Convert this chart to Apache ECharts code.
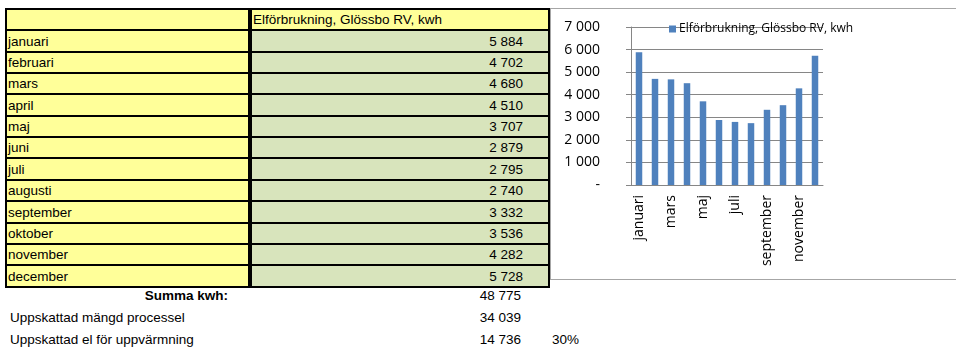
<!DOCTYPE html>
<html>
<head>
<meta charset="utf-8">
<script src="https://cdn.jsdelivr.net/npm/echarts@6/dist/echarts.min.js"></script>
<style>
  html, body { margin: 0; padding: 0; background: #fff; }
  body { width: 956px; height: 352px; position: relative; overflow: hidden;
         font-family: "Liberation Sans", Arial, sans-serif; font-size: 13.5px; color: #000; }
  .cell { position: absolute; box-sizing: border-box; white-space: nowrap; overflow: hidden; }
  .txt { position: absolute; white-space: nowrap; }
  #sheet { position: absolute; left: 5px; top: 8px; background: #000; }
  #chartBox { position: absolute; left: 550px; top: 8px; width: 420px; height: 272px;
              box-sizing: border-box; border: 1px solid #a6a6a6; background: #fff; }
  #chart { position: absolute; left: 0; top: 0; width: 418px; height: 270px; }
</style>
</head>
<body>
<div id="sheet"></div>
<div id="summary"></div>
<div id="chartBox"><div id="chart"></div></div>
<script>
// Monthly electricity use
const months = ['januari', 'februari', 'mars', 'april', 'maj', 'juni', 'juli',
                'augusti', 'september', 'oktober', 'november', 'december'];
const kwh = [5884, 4702, 4680, 4510, 3707, 2879, 2795, 2740, 3332, 3536, 4282, 5728];
const seriesName = 'Elförbrukning, Glössbo RV, kwh';

// Totals below the table
const summaryLabels = ['Summa kwh:', 'Uppskattad mängd processel', 'Uppskattad el för uppvärmning'];
const summaryValues = [48775, 34039, 14736];
const heatingShare = '30%';

// Value axis
const yMin = 0, yMax = 7000, yStep = 1000;

function fmt(n) {
  return String(n).replace(/\B(?=(\d{3})+(?!\d))/g, ' ');
}

// ---- spreadsheet grid ----
const sheet = document.getElementById('sheet');
const colW = [245, 300];
const rowH = 21.35;
const line = 2;
const nRows = months.length + 1;
const rowEdge = i => Math.round(i * rowH);
sheet.style.width = (colW[0] + colW[1]) + 'px';
sheet.style.height = (rowEdge(nRows) + line) + 'px';

function addCell(r, c, text, bg, align) {
  const d = document.createElement('div');
  d.className = 'cell';
  const x = c === 0 ? line : colW[0] + line;
  const w = c === 0 ? colW[0] - line * 2 : colW[1] - line * 2;
  const y = rowEdge(r) + line;
  const h = rowEdge(r + 1) - rowEdge(r) - line;
  d.style.left = x + 'px';
  d.style.top = y + 'px';
  d.style.width = w + 'px';
  d.style.height = h + 'px';
  d.style.lineHeight = (h + 1) + 'px';
  d.style.background = bg;
  d.style.textAlign = align;
  d.style.paddingLeft = '1px';
  d.style.paddingRight = '25px';
  d.textContent = text;
  sheet.appendChild(d);
}
const yellow = '#ffff99', green = '#d8e4bc';
addCell(0, 0, '', yellow, 'left');
addCell(0, 1, seriesName, yellow, 'left');
months.forEach((m, i) => {
  addCell(i + 1, 0, m, yellow, 'left');
  addCell(i + 1, 1, fmt(kwh[i]), green, 'right');
});

// ---- totals ----
const summary = document.getElementById('summary');
const sumY = [296, 318, 340];
summaryLabels.forEach((lab, i) => {
  const l = document.createElement('div');
  l.className = 'txt';
  if (i === 0) {
    l.style.fontWeight = 'bold';
    l.style.right = (956 - 228) + 'px';
  } else {
    l.style.left = '10px';
  }
  l.style.top = (sumY[i] - 8) + 'px';
  l.textContent = lab;
  summary.appendChild(l);
  const v = document.createElement('div');
  v.className = 'txt';
  v.style.right = (956 - 521) + 'px';
  v.style.top = (sumY[i] - 8) + 'px';
  v.textContent = fmt(summaryValues[i]);
  summary.appendChild(v);
});
const pct = document.createElement('div');
pct.className = 'txt';
pct.style.left = '552px';
pct.style.top = (sumY[2] - 8) + 'px';
pct.textContent = heatingShare;
summary.appendChild(pct);

// ---- bar chart ----
const chart = echarts.init(document.getElementById('chart'), null, { renderer: 'canvas' });
const axisGrey = '#868686';
chart.setOption({
  animation: false,
  textStyle: { fontFamily: '"Open Sans", sans-serif' },
  legend: {
    left: 118, top: 14, padding: 0,
    icon: 'rect', itemWidth: 7, itemHeight: 7, itemGap: 4,
    textStyle: { fontSize: 12, color: '#000', padding: [0, 0, 0, -2] },
    data: [seriesName]
  },
  grid: { left: 80, top: 18, width: 192, height: 158 },
  xAxis: {
    type: 'category',
    data: months,
    axisLine: { lineStyle: { color: axisGrey } },
    axisTick: { interval: 0, length: 5, lineStyle: { color: axisGrey } },
    axisLabel: { interval: 1, rotate: 90, margin: 10, fontSize: 14, color: '#000' }
  },
  yAxis: {
    type: 'value',
    min: yMin, max: yMax, interval: yStep,
    axisLine: { show: true, lineStyle: { color: axisGrey } },
    axisTick: { show: true, length: 5, lineStyle: { color: axisGrey } },
    splitLine: { lineStyle: { color: axisGrey } },
    axisLabel: {
      margin: 31, fontSize: 14, color: '#000',
      formatter: v => (v === 0 ? '-' : fmt(v))
    }
  },
  series: [{
    type: 'bar',
    name: seriesName,
    data: kwh,
    barWidth: 6.5,
    itemStyle: { color: '#4f81bd' }
  }]
});
</script>
</body>
</html>
